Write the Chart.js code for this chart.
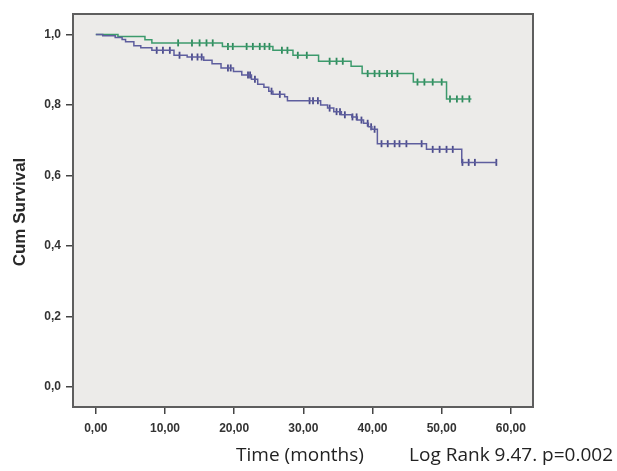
<!DOCTYPE html>
<html>
<head>
<meta charset="utf-8">
<script src="https://cdn.jsdelivr.net/npm/chart.js@4/dist/chart.umd.min.js"></script>
<style>
  html, body { margin: 0; padding: 0; background: #ffffff; }
  #wrap { width: 617px; height: 471px; }
</style>
</head>
<body>
<div id="wrap"><canvas id="c" width="617" height="471"></canvas></div>
<script>
// ---- Data ----
const xTickValues = [0, 10, 20, 30, 40, 50, 60];
const xTickLabels = ['0,00', '10,00', '20,00', '30,00', '40,00', '50,00', '60,00'];
const yTickValues = [0, 0.2, 0.4, 0.6, 0.8, 1.0];
const yTickLabels = ['0,0', '0,2', '0,4', '0,6', '0,8', '1,0'];

// Group 1 (green) step times and survival levels
const greenTimes = [0, 3.2, 7.1, 8.1, 18.3, 25.6, 28.5, 32.2, 36.9, 38.5, 45.9, 50.7, 54.3];
const greenSurv  = [1.0, 0.994, 0.985, 0.976, 0.966, 0.955, 0.941, 0.924, 0.910, 0.889, 0.865, 0.817, 0.817];
const greenCensored = [11.9, 13.9, 15.0, 16.0, 16.9, 19.1, 19.8, 21.8, 22.7, 23.7, 24.4, 25.1, 26.9, 27.7,
  29.2, 30.5, 33.8, 34.8, 35.7, 39.3, 40.3, 41.0, 42.1, 42.8, 43.6, 46.5, 47.5, 48.7, 50.0, 51.2, 52.2, 53.0, 54.0];

// Group 2 (blue) step times and survival levels
const blueTimes = [0, 1.0, 2.8, 3.8, 4.3, 5.5, 6.5, 8.1, 11.3, 13.2, 15.6, 16.8, 18.1, 19.9, 21.1, 22.5,
  23.4, 24.3, 25.0, 25.6, 27.3, 27.7, 32.5, 33.5, 34.4, 35.5, 37.0, 37.8, 38.7, 39.4, 39.9, 40.7, 47.8, 52.9, 58.0];
const blueSurv  = [1.0, 0.996, 0.991, 0.986, 0.979, 0.968, 0.962, 0.955, 0.941, 0.936, 0.927, 0.917, 0.905, 0.895, 0.885, 0.873,
  0.859, 0.850, 0.839, 0.830, 0.823, 0.812, 0.800, 0.791, 0.781, 0.772, 0.766, 0.757, 0.748, 0.738, 0.731, 0.690, 0.674, 0.637, 0.637];
const blueCensored = [8.8, 9.7, 10.7, 12.1, 13.9, 14.7, 15.3, 19.1, 19.5, 22.0, 22.3, 23.0, 25.4, 26.6,
  30.9, 31.4, 32.1, 33.8, 34.8, 35.3, 36.0, 37.1, 37.7, 38.4, 39.3, 39.8, 40.3, 41.3, 42.2, 43.2, 43.9, 44.9,
  47.1, 48.7, 49.7, 50.7, 51.6, 53.0, 53.9, 54.8, 57.9];

const greenColor = '#3c9a6c';
const blueColor  = '#5e5e9e';
const greenMark  = '#2f8a5c';
const blueMark   = '#4c4c8c';

// survival level of a step curve at time t (lookup in the arrays above)
function levelAt(times, surv, t) {
  let v = surv[0];
  for (let i = 0; i < times.length; i++) { if (times[i] <= t) v = surv[i]; }
  return v;
}
const toPts = (times, surv) => times.map((t, i) => ({ x: t, y: surv[i] }));
const censorPts = (cens, times, surv) => cens.map(t => ({ x: t, y: levelAt(times, surv, t) }));

const framePlugin = {
  id: 'frame',
  beforeDatasetsDraw(chart) {
    const { ctx, chartArea: a } = chart;
    ctx.save();
    ctx.fillStyle = '#ecebe9';
    ctx.fillRect(a.left, a.top, a.right - a.left, a.bottom - a.top);
    ctx.restore();
  },
  afterDraw(chart) {
    const { ctx, chartArea: a } = chart;
    ctx.save();
    ctx.strokeStyle = '#5e5e5e';
    ctx.lineWidth = 2;
    ctx.strokeRect(a.left, a.top, a.right - a.left, a.bottom - a.top);
    // axis titles and annotation
    ctx.fillStyle = '#222';
    ctx.textBaseline = 'middle';
    ctx.font = '19px "Open Sans"';
    ctx.textAlign = 'center';
    ctx.fillText('Time (months)', 300, 456);
    ctx.textAlign = 'right';
    ctx.fillText('Log Rank 9.47. p=0.002', 613, 456);
    ctx.translate(20, 212);
    ctx.rotate(-Math.PI / 2);
    ctx.textAlign = 'center';
    ctx.fillStyle = '#2a2a2a';
    ctx.font = 'bold 17px "Liberation Sans"';
    ctx.fillText('Cum Survival', 0, 0);
    ctx.restore();
  }
};

const tickFont = { family: '"Liberation Sans", Arial, sans-serif', size: 12, weight: 'bold' };

new Chart(document.getElementById('c'), {
  type: 'scatter',
  data: {
    datasets: [
      { type: 'line', data: toPts(blueTimes, blueSurv), stepped: 'before', borderColor: blueColor,
        borderWidth: 1.5, pointRadius: 0, fill: false, showLine: true },
      { type: 'line', data: toPts(greenTimes, greenSurv), stepped: 'before', borderColor: greenColor,
        borderWidth: 1.5, pointRadius: 0, fill: false, showLine: true },
      { data: censorPts(blueCensored, blueTimes, blueSurv), showLine: false, pointStyle: 'line',
        rotation: 90, pointRadius: 3.5, borderColor: blueMark, borderWidth: 1.8 },
      { data: censorPts(greenCensored, greenTimes, greenSurv), showLine: false, pointStyle: 'line',
        rotation: 90, pointRadius: 3.5, borderColor: greenMark, borderWidth: 1.8 }
    ]
  },
  options: {
    responsive: false,
    animation: false,
    devicePixelRatio: 1,
    layout: { padding: { left: 0, right: 84, top: 14, bottom: 0 } },
    plugins: { legend: { display: false }, tooltip: { enabled: false } },
    scales: {
      x: {
        type: 'linear', min: -3.3, max: 63.2,
        afterFit(s) { s.height = 64; },
        afterBuildTicks(s) { s.ticks = xTickValues.map(v => ({ value: v })); },
        grid: { drawOnChartArea: false, drawTicks: true, tickLength: 7, color: '#444', lineWidth: 1.5 },
        border: { display: false },
        ticks: { font: tickFont, color: '#333', padding: 7, maxRotation: 0, autoSkip: false,
          callback: (v) => xTickLabels[xTickValues.indexOf(v)] }
      },
      y: {
        type: 'linear', min: -0.057, max: 1.058,
        afterFit(s) { s.width = 73; },
        afterBuildTicks(s) { s.ticks = yTickValues.map(v => ({ value: v })); },
        grid: { drawOnChartArea: false, drawTicks: true, tickLength: 7, color: '#444', lineWidth: 1.5 },
        border: { display: false },
        ticks: { font: tickFont, color: '#333', padding: 5, autoSkip: false,
          callback: (v) => yTickLabels[yTickValues.findIndex(t => Math.abs(t - v) < 1e-6)] }
      }
    }
  },
  plugins: [framePlugin]
});
</script>
</body>
</html>
